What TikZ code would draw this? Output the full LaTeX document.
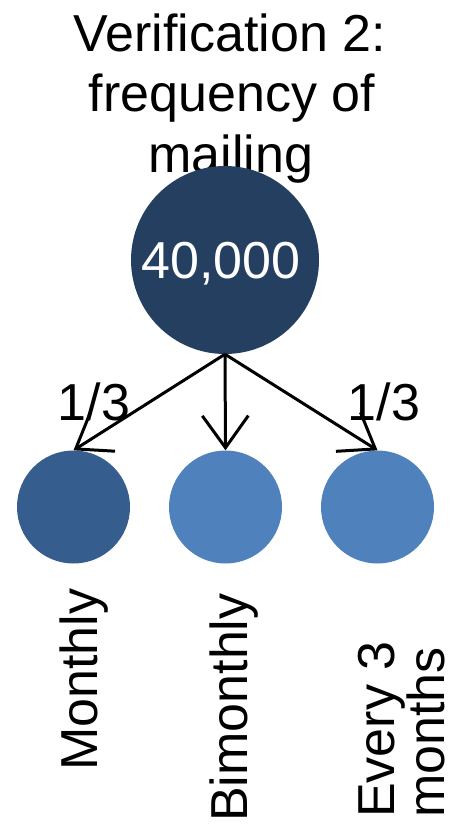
\documentclass[tikz,border=0pt]{standalone}
\usepackage{fontspec}
\setmainfont{Liberation Sans}
\usetikzlibrary{arrows.meta}
\definecolor{navy}{HTML}{253F60}
\definecolor{midblue}{HTML}{355E8F}
\definecolor{lightblue}{HTML}{4F81BD}
\begin{document}
\begin{tikzpicture}[x=1pt,y=-1pt,
  txt/.style={font=\fontsize{52}{62}\selectfont, inner sep=0pt},
  bigc/.style={circle, fill=navy, minimum size=188pt, inner sep=0pt},
  smallc/.style={circle, minimum size=113pt, inner sep=0pt},
  vlabel/.style={txt, rotate=90, anchor=base west},
  conn/.style={line width=3pt, -{Straight Barb[length=32pt,width=46pt]}}]
\useasboundingbox (0,0) rectangle (457,826);
\node[txt, anchor=base] (t1) at (230,52) {Verification 2:};
\node[txt, anchor=base] (t2) at (232,112) {frequency of};
\node[txt, anchor=base] (t3) at (231,173) {mailing};
\node[bigc] (big) at (225,260) {};
\node[txt, anchor=base, text=white] (num) at (221,278) {40,000};
\node[smallc, fill=midblue] (s1) at (73.5,507) {};
\node[smallc, fill=lightblue] (s2) at (225.5,507) {};
\node[smallc, fill=lightblue] (s3) at (377.5,507) {};
\draw[conn] (big.south) -- (s1.north);
\draw[conn] (big.south) -- (s2.north);
\draw[conn] (big.south) -- (s3.north);
\node[txt, anchor=base] (f1) at (94,420) {1/3};
\node[txt, anchor=base] (f3) at (384,420) {1/3};
\node[vlabel] (l1) at (97,771) {Monthly};
\node[vlabel] (l2) at (247,822) {Bimonthly};
\node[vlabel] (l3a) at (394,818) {Every 3};
\node[vlabel] (l3b) at (444,818) {months};
\end{tikzpicture}
\end{document}
